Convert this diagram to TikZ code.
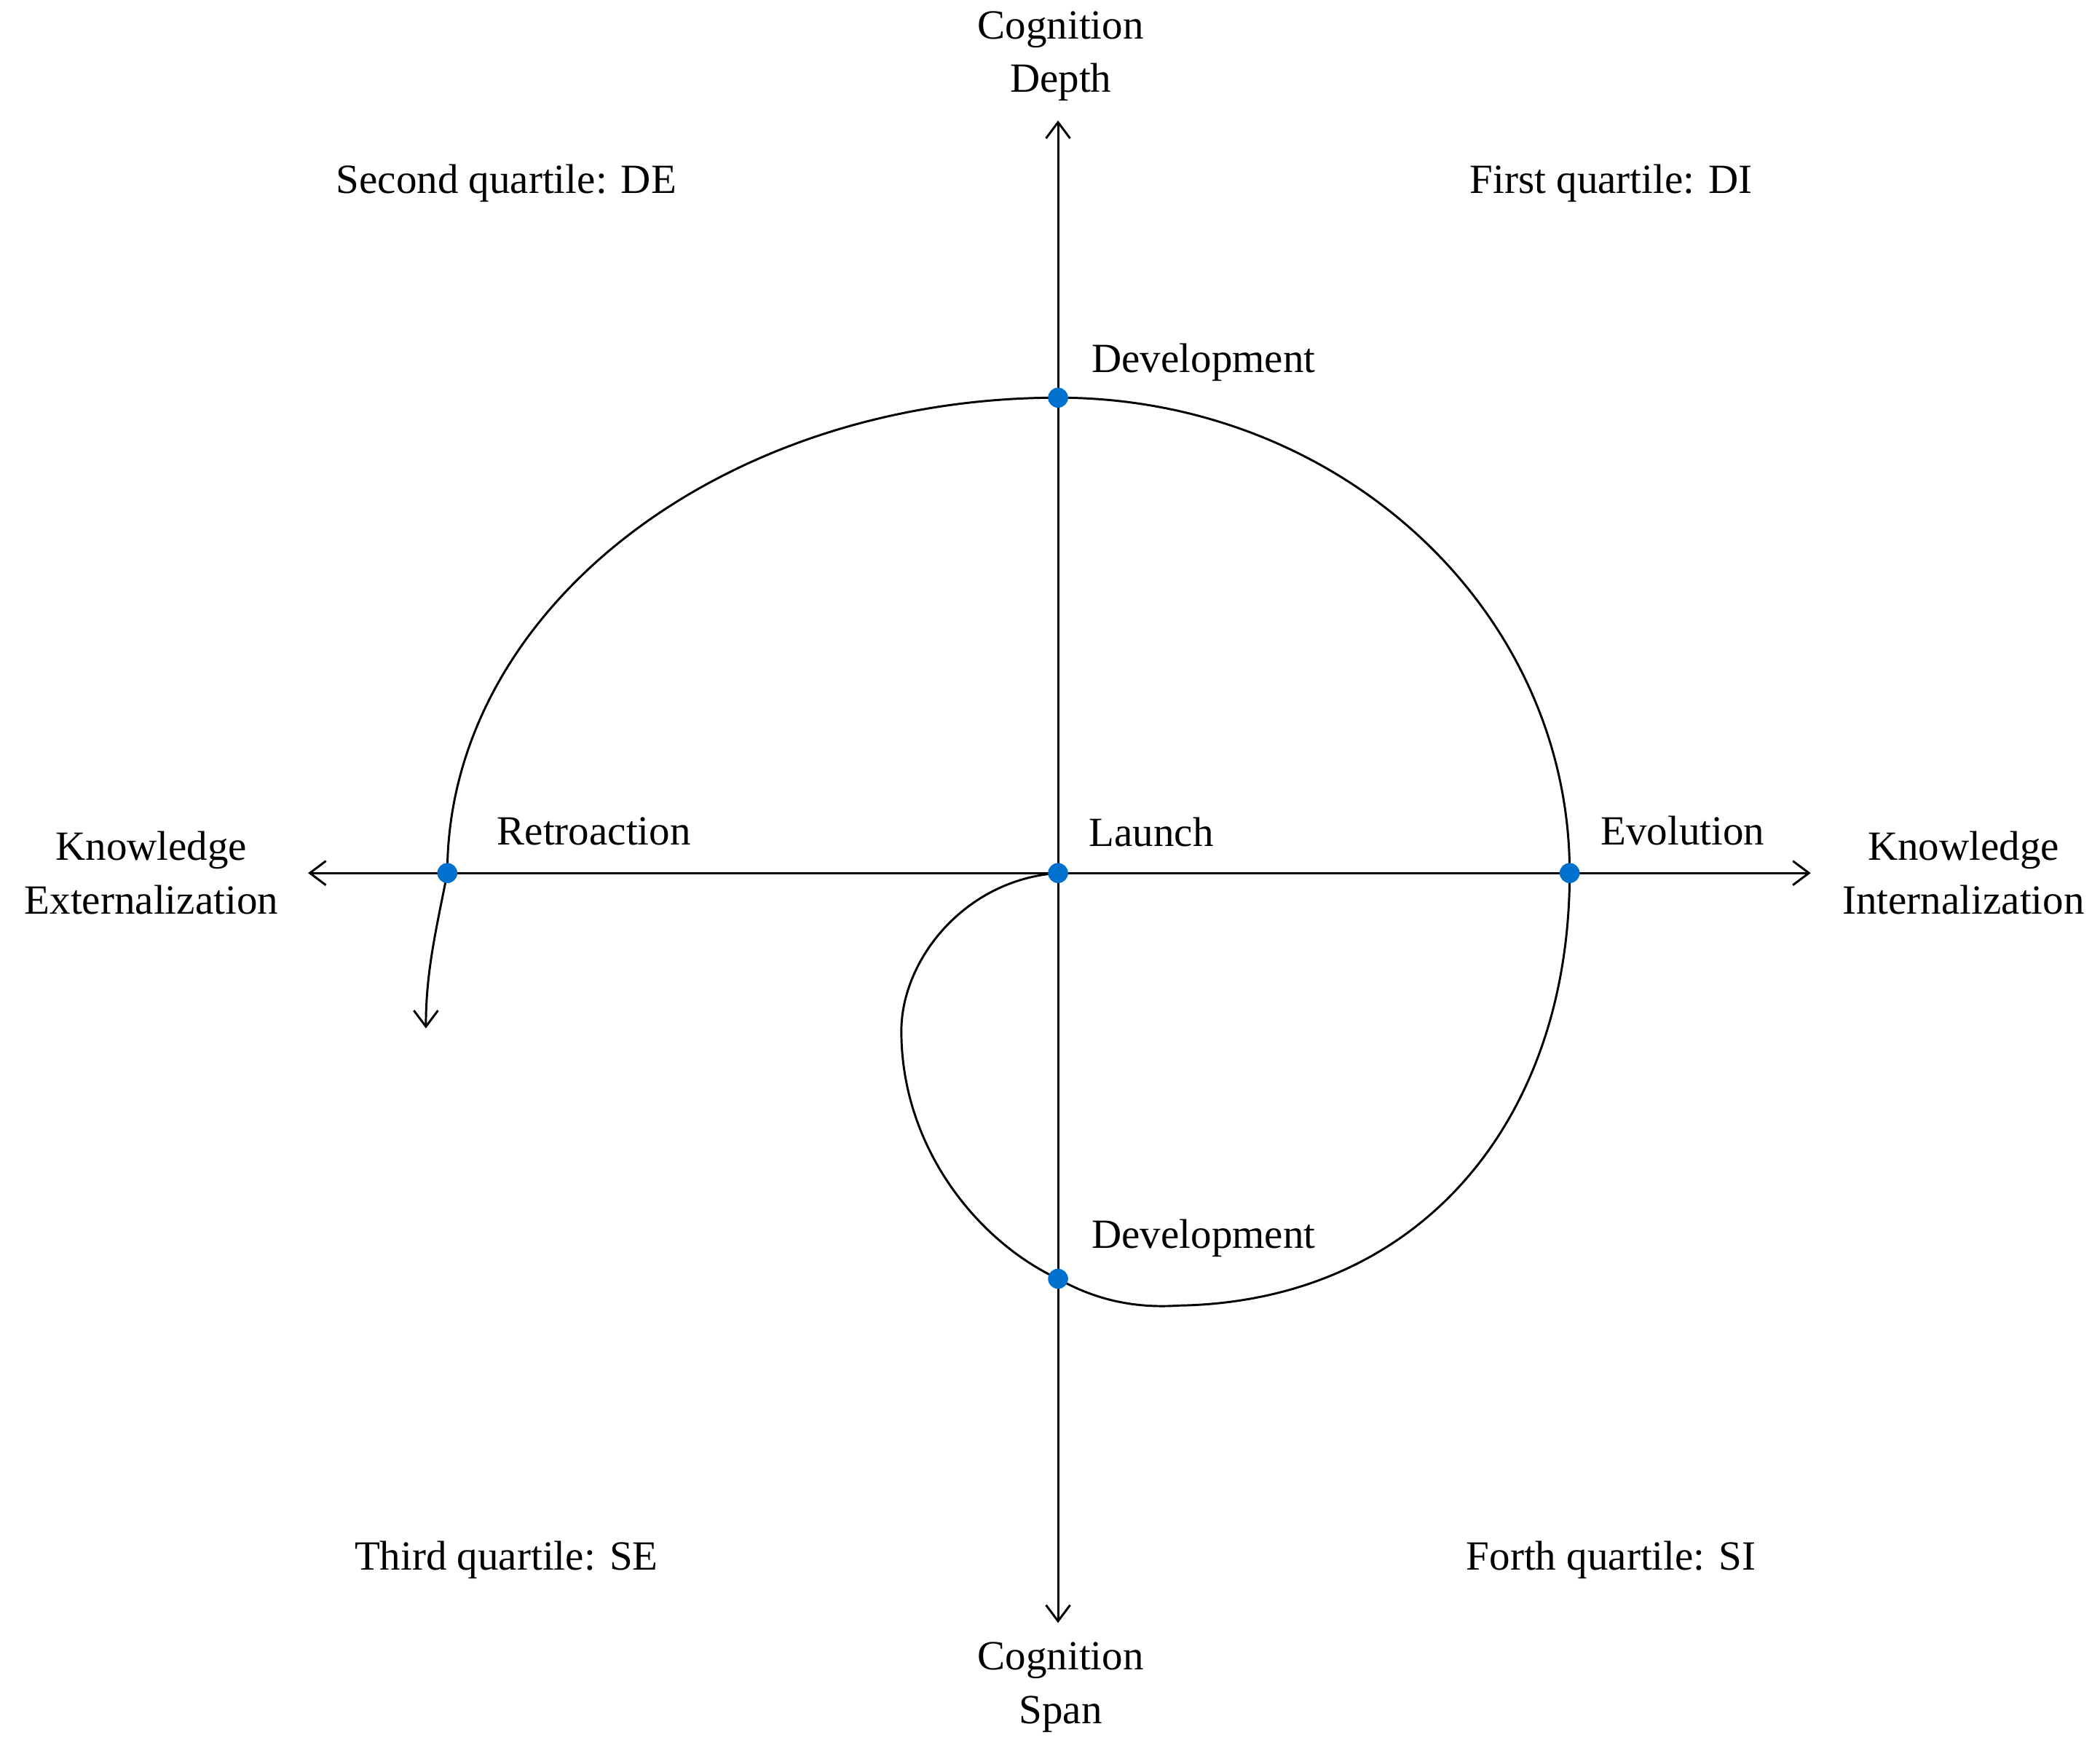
\documentclass[tikz,border=0pt]{standalone}
\usepackage{fontspec}
\setmainfont{Liberation Serif}
\usetikzlibrary{arrows.meta}
\definecolor{dotblue}{RGB}{0,114,206}
\begin{document}
\begin{tikzpicture}[x=1pt,y=1pt,
  lbl/.style={font=\fontsize{31}{40}\selectfont, inner sep=0pt},
  axlbl/.style={lbl, align=center},
  dot/.style={circle, fill=dotblue, minimum size=15pt, inner sep=0pt},
  axis/.style={line width=1.6pt, -{Straight Barb[length=12pt,width=18pt]}},
  curve/.style={line width=1.6pt}]
\useasboundingbox (0,0) rectangle (1568,1317);
\coordinate (O) at (790,665);
\coordinate (T) at (790,1227);
\coordinate (B) at (790,105);
\coordinate (L) at (230,665);
\coordinate (R) at (1352,665);
\draw[axis] (O) -- (T);
\draw[axis] (O) -- (B);
\draw[axis] (O) -- (L);
\draw[axis] (O) -- (R);
% spiral
\coordinate (endpt) at (318,549);
\draw[curve] (O) .. controls (720,660) and (673,600) .. (673,547)
  .. controls (673,460) and (730,390) .. (790,362)
  .. controls (820,345) and (850,340) .. (880,342)
  .. controls (1060,345) and (1172,480) .. (1172,665)
  arc[start angle=0,end angle=90,x radius=382,y radius=355]
  arc[start angle=90,end angle=180,x radius=456,y radius=355];
\draw[line width=1.6pt, -{Straight Barb[length=12pt,width=18pt]}] (334,665) .. controls (325,620) and (318,590) .. (endpt);
% dots
\node[dot] (launch) at (O) {};
\node[dot] (devtop) at (790,1020) {};
\node[dot] (devbot) at (790,362) {};
\node[dot] (evo) at (1172,665) {};
\node[dot] (retro) at (334,665) {};
% labels
\node[lbl, anchor=base west] (tdev) at (815,1039) {Development};
\node[lbl, anchor=base west] (tlaunch) at (813,685) {Launch};
\node[lbl, anchor=base west] (tevo) at (1195,686) {Evolution};
\node[lbl, anchor=base west] (tretro) at (371,686) {Retroaction};
\node[lbl, anchor=base west] (tdevb) at (815,385) {Development};
\node[axlbl] (cd) at (792,1275) {Cognition\\Depth};
\node[axlbl] (cs) at (792,57) {Cognition\\Span};
\node[axlbl] (ke) at (113,665) {Knowledge\\Externalization};
\node[axlbl] (ki) at (1466,665) {Knowledge\\Internalization};
\node[lbl] (q2) at (378,1180) {Second quartile: DE};
\node[lbl] (q1) at (1203,1180) {First quartile: DI};
\node[lbl] (q3) at (378,152) {Third quartile: SE};
\node[lbl] (q4) at (1203,152) {Forth quartile: SI};
\end{tikzpicture}
\end{document}
